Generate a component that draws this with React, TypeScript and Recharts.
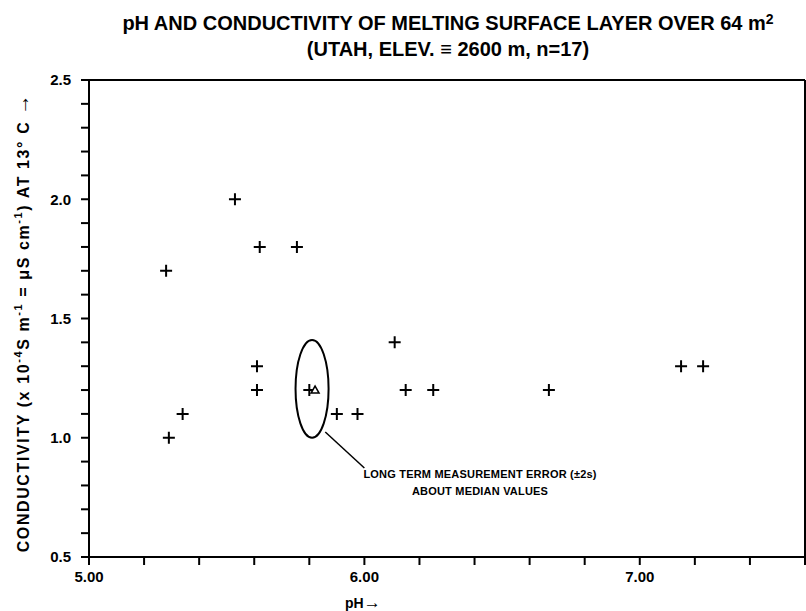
import { ScatterChart, Scatter, XAxis, YAxis, ReferenceLine, ReferenceArea, ReferenceDot } from 'recharts'

// pH vs conductivity, 17 samples
const phValues = [5.28, 5.29, 5.34, 5.53, 5.61, 5.61, 5.62, 5.755, 5.8, 5.9, 5.975, 6.11, 6.15, 6.25, 6.67, 7.15, 7.23]
const conductivity = [1.7, 1.0, 1.1, 2.0, 1.3, 1.2, 1.8, 1.8, 1.2, 1.1, 1.1, 1.4, 1.2, 1.2, 1.2, 1.3, 1.3]

const medianPh = 5.81
const medianCond = 1.2

// +/- 2s error ellipse around the median
const errorPh = [5.75, 5.87]
const errorCond = [1.0, 1.41]

const xTicks = [5.0, 5.2, 5.4, 5.6, 5.8, 6.0, 6.2, 6.4, 6.6, 6.8, 7.0, 7.2, 7.4, 7.6]
const xLabeled = [5.0, 6.0, 7.0]
const yTicks = [0.5, 0.6, 0.7, 0.8, 0.9, 1.0, 1.1, 1.2, 1.3, 1.4, 1.5, 1.6, 1.7, 1.8, 1.9, 2.0, 2.1, 2.2, 2.3, 2.4, 2.5]
const yLabeled = [0.5, 1.0, 1.5, 2.0, 2.5]

const noteLines = ['LONG TERM MEASUREMENT ERROR (±2s)', 'ABOUT MEDIAN VALUES']

const points = phValues.map((ph, i) => ({ ph, cond: conductivity[i] }))

const FONT = '"Liberation Sans", Arial, sans-serif'

const Cross = (props: any) => {
  const { cx, cy } = props
  return (
    <path d={`M${cx - 6},${cy}H${cx + 6}M${cx},${cy - 6}V${cy + 6}`} stroke="#000" strokeWidth={2} fill="none" />
  )
}

const Triangle = (props: any) => {
  const { cx, cy } = props
  const x = cx + 2
  return <path d={`M${x - 3},${cy + 3}L${x + 1},${cy - 4}L${x + 5},${cy + 3}Z`} stroke="#000" strokeWidth={1.5} fill="#fff" />
}

const Ellipse = (props: any) => {
  const { x, y, width, height } = props
  return (
    <ellipse cx={x + width / 2} cy={y + height / 2} rx={width / 2} ry={height / 2} fill="none" stroke="#000" strokeWidth={2} />
  )
}

const noteText = (line: string) => (props: any) => (
  <text x={props.cx} y={props.cy} textAnchor="middle" dominantBaseline="middle" fontFamily={FONT}
    fontWeight="bold" fontSize={11} letterSpacing={0.2} fill="#000">{line}</text>
)

const fmt = (labels: number[], digits: number) => (v: number) =>
  labels.some(l => Math.abs(l - v) < 1e-6) ? v.toFixed(digits) : ''

export default function App() {
  return (
    <div style={{ position: 'absolute', left: 0, top: 0, width: 806, height: 611, background: '#fff', fontFamily: FONT }}>
      <div style={{ position: 'absolute', left: 0, width: 896, top: 6, textAlign: 'center', fontWeight: 'bold', fontSize: 20, lineHeight: '26px', color: '#000' }}>
        pH AND CONDUCTIVITY OF MELTING SURFACE LAYER OVER 64 m<sup style={{ fontSize: 14, verticalAlign: 6 }}>2</sup>
        <br />
        (UTAH, ELEV. ≡ 2600 m, n=17)
      </div>
      <div style={{
        position: 'absolute', left: 21, top: 320, width: 540, marginLeft: -270, textAlign: 'center',
        transform: 'rotate(-90deg)', fontWeight: 'bold', fontSize: 16, letterSpacing: 1.6, whiteSpace: 'nowrap', lineHeight: '18px', marginTop: -9
      }}>
        CONDUCTIVITY (x 10<sup style={{ fontSize: 11 }}>-4</sup>S m<sup style={{ fontSize: 11 }}>-1</sup> = μS cm<sup style={{ fontSize: 11 }}>-1</sup>) AT 13° C <span style={{ fontSize: 20 }}>→</span>
      </div>
      <div style={{ position: 'absolute', left: 345, top: 593, fontWeight: 'bold', fontSize: 14 }}>pH<span style={{ fontSize: 17 }}>→</span></div>
      <ScatterChart width={806} height={611} margin={{ top: 80, right: 1, bottom: 0, left: 0 }}>
        <XAxis type="number" dataKey="ph" domain={[5, 7.6]} ticks={xTicks} interval={0} allowDataOverflow
          tickFormatter={fmt(xLabeled, 2)} height={54} tickSize={8} tickMargin={6}
          axisLine={{ stroke: '#000', strokeWidth: 2 }} tickLine={{ stroke: '#000', strokeWidth: 2 }}
          tick={{ fill: '#000', fontSize: 15, fontWeight: 'bold', fontFamily: FONT }} />
        <YAxis type="number" dataKey="cond" domain={[0.5, 2.5]} ticks={yTicks} interval={0} allowDataOverflow
          tickFormatter={fmt(yLabeled, 1)} width={89} tickSize={8} tickMargin={10}
          axisLine={{ stroke: '#000', strokeWidth: 2 }} tickLine={{ stroke: '#000', strokeWidth: 2 }}
          tick={{ fill: '#000', fontSize: 15, fontWeight: 'bold', fontFamily: FONT }} />
        <ReferenceLine y={2.5} stroke="#000" strokeWidth={2} />
        <ReferenceLine x={7.6} stroke="#000" strokeWidth={2} />
        <ReferenceArea x1={errorPh[0]} x2={errorPh[1]} y1={errorCond[0]} y2={errorCond[1]} shape={Ellipse} />
        <ReferenceLine segment={[{ x: 5.858, y: 1.024 }, { x: 6.0, y: 0.873 }]} stroke="#000" strokeWidth={1.5} />
        <ReferenceDot x={6.42} y={0.844} shape={noteText(noteLines[0])} />
        <ReferenceDot x={6.42} y={0.773} shape={noteText(noteLines[1])} />
        <Scatter data={points} shape={Cross} isAnimationActive={false} />
        <Scatter data={[{ ph: medianPh, cond: medianCond }]} shape={Triangle} isAnimationActive={false} />
      </ScatterChart>
    </div>
  )
}
